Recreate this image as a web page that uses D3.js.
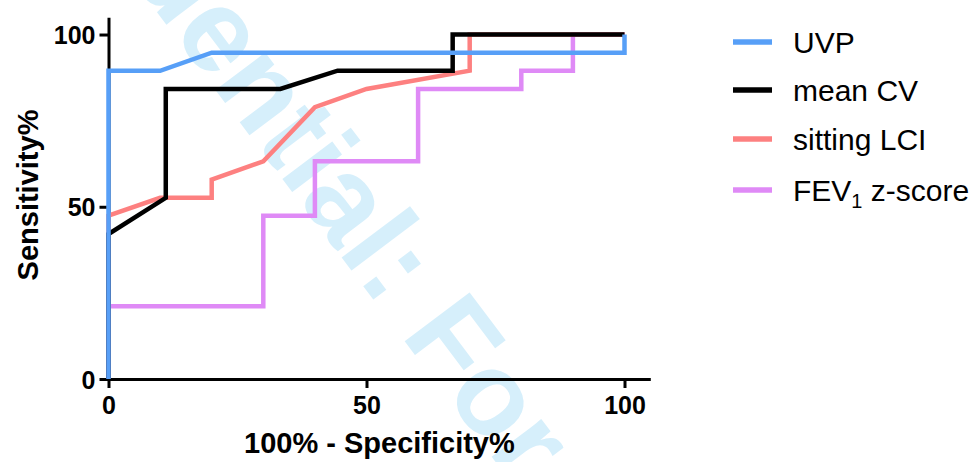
<!DOCTYPE html>
<html>
<head>
<meta charset="utf-8">
<script src="https://cdn.jsdelivr.net/npm/d3@7"></script>
<style>
  body { margin: 0; background: #fff; }
  svg { display: block; font-family: "Liberation Sans", Arial, sans-serif; }
</style>
</head>
<body>
<script>
// ROC curves, x = 100% - specificity, y = sensitivity
const uvpX = [0, 0, 10, 20, 100, 100];
const uvpY = [0, 89.47, 89.47, 94.74, 94.74, 100];

const cvX = [0, 0, 11.1, 11.1, 33.3, 44.4, 66.7, 66.7, 100];
const cvY = [0, 42.1, 52.6, 84.2, 84.2, 89.5, 89.5, 100, 100];

const lciX = [0, 0, 10, 20, 20, 30, 40, 50, 70, 70, 100];
const lciY = [0, 47.4, 52.6, 52.6, 57.9, 63.2, 78.9, 84.2, 89.5, 100, 100];

const fevX = [0, 0, 30, 30, 40, 40, 60, 60, 80, 80, 90, 90, 100];
const fevY = [0, 21.1, 21.1, 47.4, 47.4, 63.2, 63.2, 84.2, 84.2, 89.5, 89.5, 100, 100];

const seriesNames = ["UVP", "mean CV", "sitting LCI", "FEV1 z-score"];
const seriesColors = ["#579ff7", "#000000", "#fd8080", "#df8af6"];
const xTicks = [0, 50, 100];
const yTicks = [0, 50, 100];

const series = [
    { name: seriesNames[0], color: seriesColors[0], x: uvpX, y: uvpY },
    { name: seriesNames[1], color: seriesColors[1], x: cvX, y: cvY },
    { name: seriesNames[2], color: seriesColors[2], x: lciX, y: lciY },
    { name: seriesNames[3], color: seriesColors[3], x: fevX, y: fevY }
];

const svg = d3.select("body").append("svg")
    .attr("width", 972)
    .attr("height", 462);

// watermark
const wm = svg.append("g")
    .attr("transform", "translate(400,335) rotate(53)")
    .attr("fill", "#d6effb")
    .style("font-weight", "bold")
    .style("font-size", "118px");
wm.append("text").attr("x", -33).attr("text-anchor", "end").text("Confidential:");
wm.append("text").attr("x", 0).text("For Review Only");

const x = d3.scaleLinear().domain([0, 105]).range([108.5, 650.3]);
const y = d3.scaleLinear().domain([0, 105]).range([379, 17.3]);

const line = d3.line()
    .x(d => x(d[0]))
    .y(d => y(d[1]));

// axes
const xAxis = svg.append("g")
    .attr("transform", "translate(0," + y(0) + ")")
    .call(d3.axisBottom(x).tickValues(xTicks).tickSize(9).tickSizeOuter(0).tickPadding(8));

const yAxis = svg.append("g")
    .attr("transform", "translate(" + x(0) + ",0)")
    .call(d3.axisLeft(y).tickValues(yTicks).tickSize(9).tickSizeOuter(0).tickPadding(4));

[xAxis, yAxis].forEach(a => {
    a.select(".domain").attr("stroke", "#000").attr("stroke-width", 3);
    a.selectAll(".tick line").attr("stroke", "#000").attr("stroke-width", 3);
    a.selectAll(".tick text")
        .attr("fill", "#000")
        .style("font-family", "Liberation Sans, Arial, sans-serif")
        .style("font-size", "25px")
        .style("font-weight", "bold");
});
yAxis.selectAll(".tick text").attr("dy", "0.36em");

// curves, UVP on top
series.slice().reverse().forEach(s => {
    svg.append("path")
        .datum(s.x.map((v, i) => [v, s.y[i]]))
        .attr("fill", "none")
        .attr("stroke", s.color)
        .attr("stroke-width", 4.5)
        .attr("stroke-linejoin", "miter")
        .attr("d", line);
});

// axis titles
svg.append("text")
    .attr("x", (x(0) + x(105)) / 2)
    .attr("y", 453)
    .attr("text-anchor", "middle")
    .style("font-size", "29px")
    .style("font-weight", "bold")
    .text("100% - Specificity%");

svg.append("text")
    .attr("transform", "translate(38,195) rotate(-90)")
    .attr("text-anchor", "middle")
    .style("font-size", "29px")
    .style("font-weight", "bold")
    .text("Sensitivity%");

// legend
const legendY = [42, 90, 139, 190];
const legend = svg.append("g");
series.forEach((s, i) => {
    const g = legend.append("g").attr("transform", "translate(733," + legendY[i] + ")");
    g.append("line")
        .attr("x1", 0).attr("x2", 39)
        .attr("stroke", s.color)
        .attr("stroke-width", 5.5);
    const t = g.append("text")
        .attr("x", 60)
        .attr("y", 11)
        .style("font-size", "30px");
    if (s.name.startsWith("FEV1")) {
        t.append("tspan").text("FEV");
        t.append("tspan").attr("dy", 7).style("font-size", "20px").text("1");
        t.append("tspan").attr("dy", -7).text(" z-score");
    } else {
        t.text(s.name);
    }
});
</script>
</body>
</html>
